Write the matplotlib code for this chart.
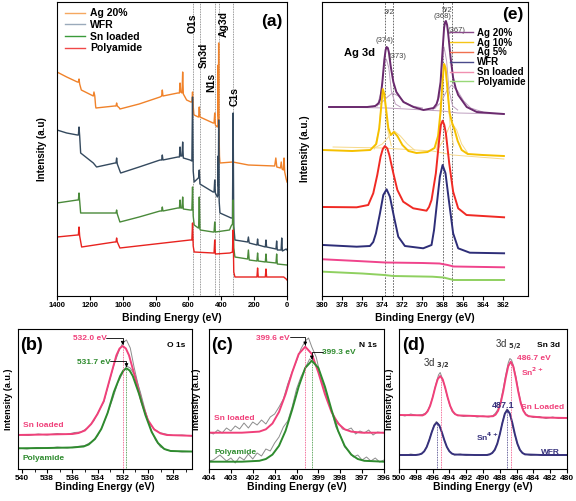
import numpy as np
import matplotlib
matplotlib.use("Agg")
import matplotlib.pyplot as plt
from matplotlib.lines import Line2D

plt.rcParams['font.family'] = ['Liberation Sans', 'DejaVu Sans']
plt.rcParams['font.weight'] = 'bold'
plt.rcParams['axes.linewidth'] = 0.8

# ---------------- (a) survey spectra: (binding energy, intensity) ----------------
survey_ag20 = [(1400,224),(1341,219),(1276,214),(1270,214),(1266,217),(1262,212),(1252,206),(1179,200),(1175,204),
               (1170,200),(1165,190),(1163,188),(1050,190),(1041,190),(1037,193),(1033,190),(1020,188),(1017,187),
               (900,192),(773,199),(763,200),(759,206),(755,200),(665,203),(655,203),(651,213),(647,204),(639,203),
               (635,224),(631,202),(611,196),(585,194),(579,194),(575,204),(571,190),(567,182),(565,181),(540,179),
               (538,179),(534,189),(530,179),(450,173),(444,173),(440,183),(436,171),(424,169),(421,171),(419,231),
               (418,180),(416,253),(414,170),(411,140),(408,133),(330,134),(235,131),(75,130),(68,138),(62,129),
               (40,128),(35,134),(30,127),(22,126),(18,138),(14,124),(5,117),(0,114)]
survey_wfr = [(1400,166),(1341,163),(1276,161),(1270,161),(1266,169),(1262,160),(1256,143),(1179,133),(1159,129),
              (1047,133),(1041,133),(1037,138),(1033,132),(1015,124),(1012,123),(900,129),(773,136),(763,136),
              (759,141),(755,136),(665,139),(655,139),(651,149),(647,140),(639,140),(635,154),(631,138),(590,136),
              (579,135),(575,199),(571,125),(565,114),(540,118),(538,118),(534,126),(530,112),(450,104),(444,104),
              (440,116),(436,103),(424,99),(421,101),(419,140),(418,110),(416,176),(413,95),(408,83),(340,78),
              (332,78),(328,183),(324,70),(317,56),(240,54),(235,59),(230,53),(183,51),(179,57),(175,51),(132,49),
              (128,56),(124,49),(67,47),(63,55),(59,46),(36,46),(32,58),(28,45),(5,47),(0,46)]
survey_sn = [(1400,93),(1276,96),(1270,96),(1266,103),(1262,95),(1256,83),(1047,83),(1041,83),(1037,86),(1033,82),
             (1017,74),(900,79),(773,85),(763,85),(759,89),(755,85),(665,88),(655,88),(651,96),(647,88),(639,88),
             (635,99),(631,87),(590,86),(579,86),(575,109),(571,80),(565,71),(540,68),(538,68),(534,99),(530,67),
             (528,66),(450,64),(444,64),(440,74),(436,64),(350,66),(340,70),(332,72),(328,96),(324,48),(317,39),
             (240,37),(235,46),(230,36),(183,35),(179,43),(175,35),(132,34),(128,42),(124,34),(67,33),(63,42),
             (59,32),(0,31)]
survey_pa = [(1400,59),(1276,61),(1270,61),(1266,69),(1262,60),(1250,49),(1050,54),(1041,54),(1037,58),(1033,54),
             (1017,48),(590,56),(579,56),(575,73),(571,50),(565,44),(450,43),(444,43),(440,56),(436,42),(347,43),
             (332,44),(328,66),(324,24),(317,19),(183,19),(179,28),(175,19),(132,19),(128,27),(124,19),(20,19),
             (5,17),(0,16)]
survey_names = ["Ag 20%", "WFR", "Sn loaded", "Polyamide"]
survey_lines = ["O1s", "Sn3d", "N1s", "Ag3d", "C1s"]
survey_line_be = [575, 530, 440, 416, 328]

# ---------------- (e) Ag 3d ----------------
e_ag20 = [(379.3,189),(377,189),(375.5,189),(374.7,190),(374.35,193),(374.2,197),(374.0,213),(373.8,236),
          (373.67,246),(373.57,249),(373.45,248),(373.35,244),(373.15,229),(372.9,214),(372.6,204),(371.9,194),
          (370.9,189),(369.9,186),(368.9,188),(368.6,192),(368.45,197),(368.2,214),(368.0,246),(367.85,268),
          (367.75,274),(367.67,275),(367.55,271),(367.45,263),(367.2,238),(366.95,218),(366.7,208),(366.45,201),
          (365.6,189),(364.6,184),(363.3,183),(361.9,182)]
e_ag20_parts = [
    [(379.3,189),(373.5,188),(368,185),(366.5,183),(361.9,182)],
    [(374.5,190),(374.1,205),(373.8,230),(373.6,237),(373.35,228),(373.1,205),(372.7,192),(372.2,189)],
    [(375,189),(374.2,192),(373.6,198),(373.0,203),(372.4,200),(371.8,194),(371,190),(370,188)],
    [(368.7,188),(368.3,200),(368.05,230),(367.85,249),(367.6,235),(367.35,205),(367.0,190),(366.5,186)],
    [(369,186),(368.2,193),(367.6,205),(367.1,211),(366.5,205),(365.9,195),(365.2,188),(364,184)],
]
e_ag10 = [(379.9,146),(377,145),(375.2,146),(374.6,152),(374.3,168),(374.1,190),(373.95,207),(373.8,202),
          (373.6,185),(373.4,168),(373.15,161),(372.85,164),(372.5,160),(372.0,151),(371.4,145),(370.6,143),
          (369.5,144),(368.8,148),(368.45,160),(368.2,185),(368.0,215),(367.85,232),(367.7,228),(367.5,205),
          (367.3,183),(367.05,173),(366.8,166),(366.5,155),(366.1,146),(365.5,142),(364,141),(361.9,140)]
e_ag10_parts = [
    [(378.9,149),(374,148),(369,145),(367,141),(361.9,137)],
    [(374.8,147),(374.35,165),(374.0,203),(373.75,195),(373.45,165),(373.1,150)],
    [(374.8,148),(374.0,152),(373.3,160),(372.8,165),(372.2,160),(371.5,152),(370.8,146)],
    [(368.6,146),(368.25,170),(367.95,225),(367.8,232),(367.55,210),(367.25,170),(366.9,150)],
    [(368.5,146),(367.8,158),(367.3,170),(367.0,172),(366.6,166),(366.1,152),(365.5,143)],
]
e_ag5 = [(379.87,89),(376.55,88.7),(375.4,91),(374.9,102.7),(374.5,121),(374.17,139.3),(373.95,147),(373.74,150),
         (373.5,147.5),(373.3,141),(372.9,122.7),(372.5,106),(371.92,94.3),(370.92,87.7),(369.6,85.3),(369.35,89),
         (369.1,96),(368.67,122.7),(368.34,156),(368.17,171),(368.0,175.3),(367.83,171),(367.67,162.7),
         (367.34,132.7),(366.95,104.3),(366.45,87.7),(365.62,81),(361.88,78.7)]
e_wfr = [(379.87,51),(376.55,49.3),(375.23,50),(374.9,54),(374.63,62.7),(374.23,82.7),(373.9,101),(373.57,106.7),
         (373.24,99.3),(372.84,79.3),(372.41,59.3),(371.75,50),(369.93,47.7),(369.1,51),(368.85,66),(368.6,89.3),
         (368.27,119.3),(368.0,131),(367.71,122.7),(367.38,96),(366.95,62.7),(366.45,47.7),(365.29,43.3),
         (361.88,42.7)]
e_sn = [(379.87,36.7),(376.5,35),(373.7,33.5),(370,33),(368.3,32.5),(367.5,31),(366.9,29.5),(361.88,28.7)]
e_pa = [(379.87,24.3),(376,22.5),(373.8,21),(372.9,20),(369,19.3),(367.9,18.5),(367.3,17),(366.9,16),(361.88,16)]
e_names = ["Ag 20%", "Ag 10%", "Ag 5%", "WFR", "Sn loaded", "Polyamide"]
e_line_be = [373.7, 372.9, 368.0, 367.05]

# ---------------- (b) O 1s ----------------
b_sn_fit = [(540.4,34),(538,34.5),(536,35),(535.5,36),(535.0,38.5),(534.5,45),(534.0,55),(533.5,68),(533.0,91),
            (532.5,113.7),(532.25,120.5),(532.0,123),(531.75,120.5),(531.5,113.7),(531.0,91),(530.5,66.7),
            (530.0,49),(529.5,39.5),(529.0,35.6),(528.5,34),(526,33)]
b_pa_fit = [(540.4,20.7),(538,21),(536,21.5),(535.1,22.5),(534.7,24.5),(534.2,30),(533.7,40),(533.2,56),(532.7,77),
            (532.2,93),(531.95,98.5),(531.7,100.7),(531.45,98.5),(531.2,93),(530.7,75),(530.2,54),(529.7,37),
            (529.2,26),(528.7,20),(528.2,18),(526,17.3)]
b_sn_raw = [(540.4,34.5),(539.5,33.5),(538.7,35),(538,34),(537.2,35.5),(536.5,34.5),(535.8,36.5),(535.3,37),
            (534.8,41),(534.3,48),(533.9,58),(533.5,67),(533.1,86),(532.7,104),(532.3,118),(532.0,126),(531.7,129),
            (531.4,121),(531.1,102),(530.7,80),(530.3,60),(529.9,46),(529.5,40),(529.1,36.5),(528.6,35),(528,33.5),
            (527.3,34),(526.5,33),(526,33.5)]
b_pa_raw = [(540.4,21),(539.6,20),(538.8,21.5),(538,20.5),(537.2,22),(536.4,21),(535.6,22.5),(535,23.5),(534.5,27),
            (534,33),(533.6,43),(533.2,56),(532.8,70),(532.4,86),(532.0,96),(531.7,103),(531.4,101),(531.0,93),
            (530.6,77),(530.2,58),(529.8,41),(529.4,29),(529,22),(528.5,19),(528,18),(527.3,17),(526.5,17.5),(526,17)]
b_peaks = [532.0, 531.7]

# ---------------- (c) N 1s ----------------
c_sn_fit = [(404,36.3),(402.5,36.3),(401.7,37.4),(401.4,39.7),(401.1,45.5),(400.8,57),(400.5,74.8),(400.2,96.5),
            (399.9,115),(399.6,122.3),(399.3,115),(399.0,96.5),(398.7,74.8),(398.4,57),(398.1,45.5),(397.8,39.7),
            (397.5,37.4),(397,36.3),(396,36.3)]
c_pa_fit = [(404,7.3),(402.5,7.3),(401.7,8.2),(401.4,10),(401.1,14.4),(400.8,23.2),(400.5,38.2),(400.2,59.2),
            (399.9,82.4),(399.6,101.1),(399.3,108.3),(399.0,101.1),(398.7,82.4),(398.4,59.2),(398.1,38.2),
            (397.8,23.2),(397.5,14.4),(397.2,10),(396.9,8.2),(396,7.3)]
c_sn_raw = [(404,37),(403.8,35),(403.6,39),(403.4,36),(403.2,41),(403.0,38),(402.8,43),(402.6,40),(402.4,46),
            (402.2,41),(402.0,47),(401.8,44),(401.6,49),(401.4,45),(401.2,52),(401.0,55),(400.8,62),(400.6,70),
            (400.4,85),(400.2,97),(400.0,108),(399.8,120),(399.6,128),(399.45,131),(399.3,122),(399.1,112),
            (398.9,93),(398.7,76),(398.5,65),(398.3,52),(398.1,47),(397.9,40),(397.7,39),(397.5,41),(397.3,35),
            (397.1,38),(396.9,36),(396.7,39),(396.5,34),(396.3,37),(396.0,36)]
c_pa_raw = [(404,8),(403.8,9),(403.5,14),(403.2,8),(403.0,11),(402.8,6),(402.6,12),(402.4,9),(402.2,15),(402.0,10),
            (401.8,16),(401.6,13),(401.4,20),(401.2,18),(401.0,26),(400.8,32),(400.6,42),(400.4,48),(400.2,62),
            (400.0,80),(399.8,92),(399.6,101),(399.4,110),(399.2,106),(399.0,100),(398.8,88),(398.6,72),(398.4,58),
            (398.2,42),(398.0,34),(397.8,22),(397.6,18),(397.4,12),(397.2,14),(397.0,9),(396.8,12),(396.6,8),
            (396.4,11),(396.2,7),(396,9)]
c_peaks = [399.6, 399.3]

# ---------------- (d) Sn 3d ----------------
d_sn_fit = [(500,54),(498,53.8),(497.2,53.6),(496.9,54.8),(496.6,57.6),(496.3,63),(496.0,71.3),(495.7,81.3),
            (495.4,89.7),(495.1,93),(494.8,89.7),(494.5,81.3),(494.2,71.3),(493.9,63),(493.6,57.6),(493.3,54.8),
            (493.0,53.6),(491,53),(489.5,52.5),(488.8,52.8),(488.5,54.4),(488.2,58.3),(487.9,65.8),(487.6,77.3),
            (487.3,91.1),(487.0,102.7),(486.7,107.3),(486.4,102.7),(486.1,91.1),(485.8,77.3),(485.5,65.8),
            (485.2,58.3),(484.9,54.4),(484.6,52.8),(483,51.5),(480,51)]
d_wfr_fit = [(500,14),(498,14),(497.6,14.5),(497.3,15.4),(497.0,17.7),(496.7,22),(496.4,28.8),(496.1,36.8),
             (495.8,43.6),(495.5,46.3),(495.2,43.6),(494.9,36.8),(494.6,28.8),(494.3,22),(494.0,17.7),(493.7,15.4),
             (493.4,14.5),(491,14),(489.5,14),(489.2,14.6),(488.9,16),(488.6,19.1),(488.3,25.2),(488.0,34.6),
             (487.7,45.8),(487.4,55.3),(487.1,59),(486.8,55.3),(486.5,45.8),(486.2,34.6),(485.9,25.2),(485.6,19.1),
             (485.3,16),(485.0,14.6),(483,14),(480,14)]
d_sn_raw = [(500,54.5),(499.3,53),(498.6,55),(497.9,53.5),(497.2,54.5),(496.8,56),(496.5,60),(496.2,66),(495.9,75),
            (495.6,85),(495.3,94),(495.1,96.5),(494.9,92),(494.6,84),(494.3,74),(494.0,65),(493.7,58),(493.4,55),
            (493.0,54),(492.3,52.5),(491.5,53.5),(490.7,52),(490,53),(489.3,52),(488.8,53.5),(488.5,56),(488.2,60),
            (487.9,68),(487.6,80),(487.3,94),(487.0,106),(486.8,110.5),(486.6,109),(486.4,104),(486.1,93),
            (485.8,79),(485.5,67),(485.2,59),(484.9,55),(484.5,53),(484,51.5),(483.3,52.5),(482.5,50.5),(481.7,52),
            (481,50.5),(480,51.5)]
d_wfr_raw = [(500,14.5),(499.3,13.5),(498.6,15),(497.9,14),(497.3,15),(497,17.5),(496.7,22.5),(496.4,29.5),
             (496.1,37.5),(495.8,44.5),(495.55,47.5),(495.3,45),(495.0,39),(494.7,31),(494.4,24),(494.1,18.5),
             (493.8,16),(493.4,14),(492.7,15),(492,13.5),(491.2,14.5),(490.4,13.5),(489.6,14.5),(489.2,15),
             (488.9,16.5),(488.6,20),(488.3,26),(488.0,35),(487.7,46.5),(487.4,56),(487.15,60),(486.9,57),(486.6,48),
             (486.3,37),(486.0,27),(485.7,20),(485.4,16.5),(485.0,15),(484.3,13.5),(483.5,14.5),(482.7,13.5),
             (481.8,14.5),(481,13.5),(480,14)]
d_sn_peaks = [495.0, 486.7]
d_wfr_peaks = [495.5, 487.1]

PINK = '#f0407a'
GREEN = '#2e8b2e'
NAVY = '#36317c'
GREY = '#8c8c8c'


def xy(pts):
    a = np.array(pts, dtype=float)
    return a[:, 0], a[:, 1]


def style(ax, xlim, ylim, ticks, label_size, ylab, ylab_x, xlab_y, ylab_size=7, minor=None):
    ax.set_xlim(*xlim)
    ax.set_ylim(*ylim)
    ax.set_xticks(ticks)
    ax.set_xticklabels([str(t) for t in ticks])
    if minor is not None:
        ax.set_xticks(minor, minor=True)
    ax.set_yticks([])
    ax.tick_params(axis='x', which='major', direction='out', length=3, width=0.8,
                   labelsize=label_size, pad=1.5)
    ax.tick_params(axis='x', which='minor', direction='out', length=1.8, width=0.6)
    for lab in ax.get_xticklabels():
        lab.set_fontweight('bold')
    ax.set_xlabel("Binding Energy (eV)", fontsize=7.5, fontweight='bold')
    ax.xaxis.set_label_coords(0.5, xlab_y)
    ax.set_ylabel(ylab, fontsize=ylab_size, fontweight='bold')
    ax.yaxis.set_label_coords(ylab_x, 0.5)


def peak_height(pts, be):
    x, y = xy(pts)
    return np.interp(be, x[::-1], y[::-1])


fig = plt.figure(figsize=(5.76, 5.01), dpi=100)
W, H = 576.0, 501.0
ARROW = dict(arrowstyle='-|>', color='black', lw=0.6, mutation_scale=5,
             connectionstyle='angle,angleA=0,angleB=90,rad=0', shrinkA=0, shrinkB=0)

# ---------------- panel (a) ----------------
ax_a = fig.add_axes([57 / W, 1 - 296 / H, 230 / W, 294 / H])
a_colors = ['#f0822a', '#34495e', '#4a8a3a', '#e8231f']
a_legend_colors = ['#f5a860', '#9aaabb', '#3a9a3a', '#f04848']
for ser, col in zip([survey_ag20, survey_wfr, survey_sn, survey_pa], a_colors):
    x, y = xy(ser)
    ax_a.plot(x, y, color=col, lw=1.0)
for be in survey_line_be:
    ax_a.axvline(be, color='#777777', lw=0.6, ls=(0, (1, 1)), zorder=0)
label_pos = [(572, 273), (505, 241), (463, 214), (384, 272), (320, 199)]
for name, (tx, ty) in zip(survey_lines, label_pos):
    ax_a.text(tx, ty, name, rotation=90, ha='center', va='center', fontsize=7.5, fontweight='bold')
style(ax_a, (1400, 0), (0, 294), list(range(1400, -1, -200)), 5.5, "Intensity (a.u)", -0.043, -0.058)
handles = [Line2D([], [], color=c, lw=1.0) for c in a_legend_colors]
ax_a.legend(handles, survey_names, loc='upper left', bbox_to_anchor=(0.035, 0.978), frameon=False,
            handlelength=1.9, handletextpad=0.5, labelspacing=0.15, borderpad=0,
            borderaxespad=0, prop={'weight': 'bold', 'size': 7.5})
ax_a.text(0.935, 0.935, "(a)", transform=ax_a.transAxes, fontsize=12.5, fontweight='bold',
          ha='center', va='center')

# ---------------- panel (e) ----------------
ax_e = fig.add_axes([322 / W, 1 - 296 / H, 206 / W, 294 / H])
for part in e_ag20_parts:
    x, y = xy(part)
    ax_e.plot(x, y, color='#bfa0c0', lw=0.7)
for part in e_ag10_parts:
    x, y = xy(part)
    ax_e.plot(x, y, color='#f6d98a', lw=0.7)
e_colors = ['#6a2a6e', '#f5c000', '#f02a24', '#2e2e78', '#f0448c', '#8fd060']
for ser, col in zip([e_ag20, e_ag10, e_ag5, e_wfr, e_sn, e_pa], e_colors):
    x, y = xy(ser)
    ax_e.plot(x, y, color=col, lw=1.4)
for be in e_line_be:
    ax_e.axvline(be, color='#555555', lw=0.6, ls=(0, (2, 1.5)), zorder=0)
style(ax_e, (380, 359.5), (0, 294), list(range(380, 361, -2)), 5.5, "Intensity (a.u.)", -0.058, -0.058)
e_legend_colors = ['#8a4a8a', '#f5c518', '#f07050', '#4a4a8a', '#f090b0', '#98d878']
handles = [Line2D([], [], color=c, lw=1.0) for c in e_legend_colors]
ax_e.legend(handles, e_names, loc='upper left', bbox_to_anchor=(0.62, 0.912), frameon=False,
            handlelength=2.4, handletextpad=0.4, labelspacing=-0.02, borderpad=0,
            borderaxespad=0, prop={'weight': 'bold', 'size': 7})
ax_e.text(0.927, 0.956, "(e)", transform=ax_e.transAxes, fontsize=12.5, fontweight='bold',
          ha='center', va='center')
ax_e.text(376.3, 243, "Ag 3d", fontsize=8, fontweight='bold', ha='center', va='center')
for txt, tx, ty in [("3/2", 373.3, 283), ("(374)", 373.75, 256), ("(373)", 372.45, 239),
                    ("5/2", 367.6, 285), ("(368)", 368.05, 279), ("(367)", 366.65, 266)]:
    ax_e.text(tx, ty, txt, fontsize=5.5, fontweight='normal', color='#444444', ha='center', va='center')

# ---------------- panel (b) ----------------
ax_b = fig.add_axes([17.5 / W, 1 - 469 / H, 174.5 / W, 140 / H])
for ser in [b_sn_raw, b_pa_raw]:
    x, y = xy(ser)
    ax_b.plot(x, y, color=GREY, lw=0.7)
for ser, col in [(b_sn_fit, PINK), (b_pa_fit, GREEN)]:
    x, y = xy(ser)
    ax_b.plot(x, y, color=col, lw=1.4)
ax_b.vlines(b_peaks[0], 0, peak_height(b_sn_fit, b_peaks[0]), color=PINK, lw=0.6, ls=(0, (1, 1)))
ax_b.vlines(b_peaks[1], 0, peak_height(b_pa_fit, b_peaks[1]), color=GREEN, lw=0.6, ls=(0, (1, 1)))
style(ax_b, (540.35, 526.5), (0, 140), list(range(540, 527, -2)), 6, "Intensity (a.u.)", -0.023, -0.095,
      ylab_size=6.5, minor=list(range(539, 526, -2)))
ax_b.text(534.6, 130, "532.0 eV", color=PINK, fontsize=6, fontweight='bold', ha='center', va='center')
ax_b.annotate('', xy=(b_peaks[0], peak_height(b_sn_fit, b_peaks[0]) + 1), xytext=(533.3, 131), arrowprops=ARROW)
ax_b.text(534.3, 107, "531.7 eV", color=GREEN, fontsize=6, fontweight='bold', ha='center', va='center')
ax_b.annotate('', xy=(b_peaks[1], peak_height(b_pa_fit, b_peaks[1]) + 1), xytext=(533.0, 108), arrowprops=ARROW)
ax_b.text(0.96, 0.885, "O 1s", transform=ax_b.transAxes, fontsize=6, fontweight='bold', ha='right', va='center')
ax_b.text(0.03, 0.31, "Sn loaded", transform=ax_b.transAxes, color=PINK, fontsize=6, fontweight='bold', va='center')
ax_b.text(0.03, 0.075, "Polyamide", transform=ax_b.transAxes, color=GREEN, fontsize=6, fontweight='bold', va='center')
ax_b.text(0.08, 0.885, "(b)", transform=ax_b.transAxes, fontsize=13, fontweight='bold', ha='center', va='center')

# ---------------- panel (c) ----------------
ax_c = fig.add_axes([209 / W, 1 - 469 / H, 175 / W, 140 / H])
for ser in [c_sn_raw, c_pa_raw]:
    x, y = xy(ser)
    ax_c.plot(x, y, color=GREY, lw=0.7)
for ser, col in [(c_sn_fit, PINK), (c_pa_fit, GREEN)]:
    x, y = xy(ser)
    ax_c.plot(x, y, color=col, lw=1.4)
ax_c.vlines(c_peaks[0], 0, peak_height(c_sn_fit, c_peaks[0]), color=PINK, lw=0.6, ls=(0, (1, 1)))
ax_c.vlines(c_peaks[1], 0, peak_height(c_pa_fit, c_peaks[1]), color=GREEN, lw=0.6, ls=(0, (1, 1)))
style(ax_c, (404, 396), (0, 140), list(range(404, 395, -1)), 6, "Intensity (a.u.)", -0.046, -0.095,
      ylab_size=6.5)
ax_c.text(401.1, 131, "399.6 eV", color=PINK, fontsize=6, fontweight='bold', ha='center', va='center')
ax_c.annotate('', xy=(c_peaks[0], peak_height(c_sn_fit, c_peaks[0]) + 1), xytext=(400.3, 132), arrowprops=ARROW)
ax_c.text(398.05, 117, "399.3 eV", color=GREEN, fontsize=6, fontweight='bold', ha='center', va='center')
ax_c.annotate('', xy=(c_peaks[1], peak_height(c_pa_fit, c_peaks[1]) + 1), xytext=(398.8, 117), arrowprops=ARROW)
ax_c.text(0.96, 0.885, "N 1s", transform=ax_c.transAxes, fontsize=6, fontweight='bold', ha='right', va='center')
ax_c.text(0.03, 0.36, "Sn loaded", transform=ax_c.transAxes, color=PINK, fontsize=6, fontweight='bold', va='center')
ax_c.text(0.03, 0.12, "Polyamide", transform=ax_c.transAxes, color=GREEN, fontsize=6, fontweight='bold', va='center')
ax_c.text(0.075, 0.885, "(c)", transform=ax_c.transAxes, fontsize=13, fontweight='bold', ha='center', va='center')

# ---------------- panel (d) ----------------
ax_d = fig.add_axes([399 / W, 1 - 469 / H, 168 / W, 140 / H])
for ser in [d_sn_raw, d_wfr_raw]:
    x, y = xy(ser)
    ax_d.plot(x, y, color=GREY, lw=0.7)
for ser, col in [(d_sn_fit, PINK), (d_wfr_fit, NAVY)]:
    x, y = xy(ser)
    ax_d.plot(x, y, color=col, lw=1.4)
for pk in d_sn_peaks:
    ax_d.vlines(pk, 0, peak_height(d_sn_fit, pk), color=PINK, lw=0.6, ls=(0, (1, 1)))
for pk in d_wfr_peaks:
    ax_d.vlines(pk, 0, peak_height(d_wfr_fit, pk), color=NAVY, lw=0.6, ls=(0, (1, 1)))
style(ax_d, (500, 480), (0, 140), list(range(500, 479, -2)), 6, "Intensity (a.u.)", -0.03, -0.095,
      ylab_size=6.5)
ax_d.text(0.96, 0.885, "Sn 3d", transform=ax_d.transAxes, fontsize=6, fontweight='bold', ha='right', va='center')
ax_d.text(495.5, 105, r"3d $_{3/2}$", fontsize=7, fontweight='normal', color='#333333', ha='center', va='center')
ax_d.text(487.0, 124, r"3d $_{5/2}$", fontsize=7, fontweight='normal', color='#333333', ha='center', va='center')
ax_d.text(486.0, 110, "486.7 eV", color=PINK, fontsize=6, fontweight='bold', ha='left', va='center')
ax_d.text(484.2, 97, r"Sn$^{2+}$", color=PINK, fontsize=6, fontweight='bold', ha='center', va='center')
ax_d.text(487.6, 64, "487.1", color=NAVY, fontsize=6.5, fontweight='bold', ha='center', va='center')
ax_d.text(0.98, 0.44, "Sn Loaded", transform=ax_d.transAxes, color=PINK, fontsize=6, fontweight='bold',
          ha='right', va='center')
ax_d.text(489.5, 32, r"Sn$^{4+}$", color=NAVY, fontsize=6, fontweight='bold', ha='center', va='center')
ax_d.text(0.96, 0.12, "WFR", transform=ax_d.transAxes, color=NAVY, fontsize=6, fontweight='bold',
          ha='right', va='center')
ax_d.text(0.085, 0.885, "(d)", transform=ax_d.transAxes, fontsize=13, fontweight='bold', ha='center', va='center')

fig.savefig("out.png", dpi=100)
